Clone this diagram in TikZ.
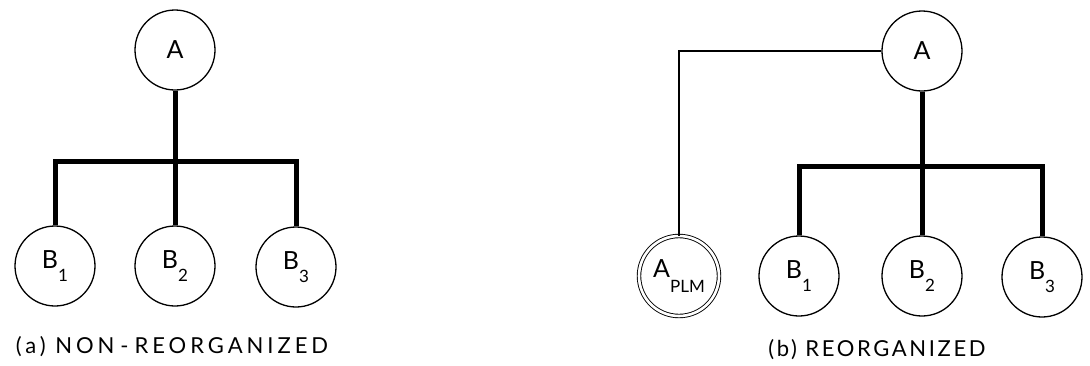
\documentclass[tikz,border=0pt]{standalone}
\usepackage{fontspec}
\setmainfont{Lato}
\newfontfamily\capfont{Lato}[LetterSpace=12]
\newfontfamily\capwidefont{Lato}[LetterSpace=18]
\usepackage{tikz}
\usetikzlibrary{positioning, calc}

\newcommand{\subfont}{\fontsize{17}{17}\selectfont}

\begin{document}
\begin{tikzpicture}[x=1pt, y=-1pt,
    unit/.style={circle, draw, line width=1.3pt, minimum size=80pt, inner sep=0pt, font=\fontsize{25}{25}\selectfont},
    plmunit/.style={circle, draw, double, double distance=2.6pt, line width=0.9pt, minimum size=80pt, inner sep=0pt, font=\fontsize{25}{25}\selectfont},
    bar/.style={line width=5pt},
    link/.style={line width=1.4pt},
    caption/.style={font=\capfont\fontsize{22}{22}\selectfont},
    widecaption/.style={font=\capwidefont\fontsize{22}{22}\selectfont}]
    \useasboundingbox (0,0) rectangle (1090,365);
    % (a) non-reorganized
    \node[unit] (a) at (175,50) {A};
    \node[unit] (b1) at (55,266) {B\raisebox{-0.55em}{\subfont 1}};
    \node[unit] (b2) at (175,266) {B\raisebox{-0.55em}{\subfont 2}};
    \node[unit] (b3) at (296,267) {B\raisebox{-0.55em}{\subfont 3}};
    \coordinate (aj) at (175,161);
    \draw[bar] (a) -- (b2);
    \draw[bar] (b1) |- (aj) -| (b3);
    \node[widecaption] (capa) at (172,347) {(a) NON\hspace{6pt}-\hspace{6pt}REORGANIZED};
    % (b) reorganized
    \node[unit] (ra) at (922,51) {A};
    \node[plmunit] (plm) at (679,276) {A\raisebox{-0.6em}{\subfont PLM}};
    \node[unit] (rb1) at (799,276) {B\raisebox{-0.55em}{\subfont 1}};
    \node[unit] (rb2) at (922,276) {B\raisebox{-0.55em}{\subfont 2}};
    \node[unit] (rb3) at (1042,277) {B\raisebox{-0.55em}{\subfont 3}};
    \coordinate (rj) at (922,166);
    \draw[bar] (ra) -- (rb2);
    \draw[bar] (rb1) |- (rj) -| (rb3);
    \draw[link] (ra) -| (plm);
    \node[caption] (capb) at (877,350) {(b) REORGANIZED};
\end{tikzpicture}
\end{document}
